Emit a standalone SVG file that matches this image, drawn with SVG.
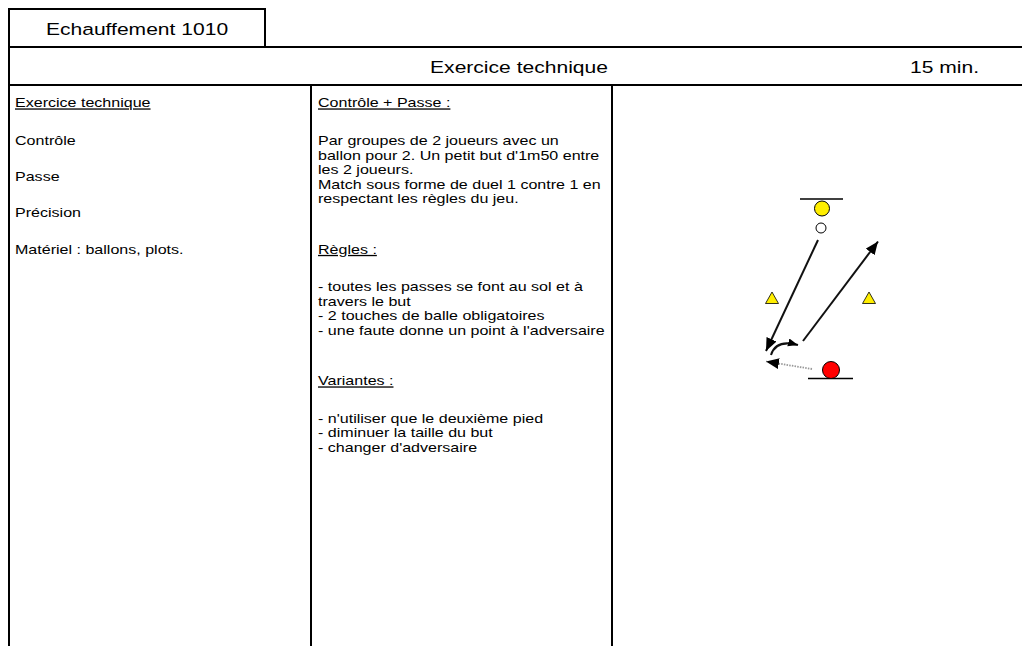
<svg xmlns="http://www.w3.org/2000/svg" width="1022" height="646" viewBox="0 0 1022 646">
<style>
  .frame { stroke: #000; stroke-width: 2; fill: none; }
  .t { font-family: "Liberation Sans", Arial, sans-serif; font-size: 13px; fill: #000; }
  .h { font-family: "Liberation Sans", Arial, sans-serif; font-size: 16.5px; fill: #000; }
  .u { text-decoration: underline; }
  .arrow { stroke: #111; stroke-width: 2; fill: none; }
  .dotted { stroke: #999; stroke-width: 1.8; fill: none; stroke-dasharray: 1.5 1.2; }
  .goal { stroke: #000; stroke-width: 1.5; }
  .cone { fill: #ffee00; stroke: #000; stroke-width: 0.8; }
</style>
<defs>
  <marker id="ah" markerUnits="userSpaceOnUse" markerWidth="15" markerHeight="13" refX="13" refY="5.5" orient="auto">
    <path d="M0,0 L13,5.5 L0,11 Z" fill="#000"/>
  </marker>
  <marker id="ahs" markerUnits="userSpaceOnUse" markerWidth="12" markerHeight="10" refX="10" refY="4" orient="auto">
    <path d="M0,0 L10,4 L0,8 Z" fill="#000"/>
  </marker>
</defs>
<rect width="1022" height="646" fill="#fff"/>

<g id="frame">
  <rect class="frame" x="9" y="9" width="256" height="38"/>
  <line class="frame" x1="9" y1="47" x2="1022" y2="47"/>
  <line class="frame" x1="9" y1="85" x2="1022" y2="85"/>
  <line class="frame" x1="9" y1="9" x2="9" y2="646"/>
  <line class="frame" x1="311" y1="85" x2="311" y2="646"/>
  <line class="frame" x1="612" y1="85" x2="612" y2="646"/>
</g>

<g id="title">
  <g transform="translate(137,35) scale(1.277,1)"><text class="h" x="0" y="0" text-anchor="middle">Echauffement 1010</text></g>
</g>

<g id="header-row">
  <g transform="translate(519,73) scale(1.277,1)"><text class="h" x="0" y="0" text-anchor="middle">Exercice technique</text></g>
  <g transform="translate(910,73) scale(1.277,1)"><text class="h" x="0" y="0">15 min.</text></g>
</g>

<g id="col-objectives" transform="translate(15,0) scale(1.235,1)">
  <text class="t u" x="0" y="107.5">Exercice technique</text>
  <text class="t" x="0" y="145.5">Contrôle</text>
  <text class="t" x="0" y="181.5">Passe</text>
  <text class="t" x="0" y="217.5">Précision</text>
  <text class="t" x="0" y="254">Matériel : ballons, plots.</text>
</g>

<g id="col-description" transform="translate(318,0) scale(1.235,1)">
  <text class="t u" x="0" y="107.5">Contrôle + Passe :</text>
  <text class="t" x="0" y="145.5">Par groupes de 2 joueurs avec un</text>
  <text class="t" x="0" y="160">ballon pour 2. Un petit but d'1m50 entre</text>
  <text class="t" x="0" y="174.5">les 2 joueurs.</text>
  <text class="t" x="0" y="189">Match sous forme de duel 1 contre 1 en</text>
  <text class="t" x="0" y="203.5">respectant les règles du jeu.</text>
  <text class="t u" x="0" y="254">Règles :</text>
  <text class="t" x="0" y="291.5">- toutes les passes se font au sol et à</text>
  <text class="t" x="0" y="306">travers le but</text>
  <text class="t" x="0" y="320.5">- 2 touches de balle obligatoires</text>
  <text class="t" x="0" y="335">- une faute donne un point à l'adversaire</text>
  <text class="t u" x="0" y="385.5">Variantes :</text>
  <text class="t" x="0" y="423">- n'utiliser que le deuxième pied</text>
  <text class="t" x="0" y="437.5">- diminuer la taille du but</text>
  <text class="t" x="0" y="452">- changer d'adversaire</text>
</g>

<g id="diagram">
  <g id="goal-top"><line class="goal" x1="800" y1="199" x2="843" y2="199"/></g>
  <g id="goal-bottom"><line class="goal" x1="808" y1="378.5" x2="853" y2="378.5"/></g>
  <g id="player-yellow"><circle cx="822" cy="208.5" r="7.5" fill="#ffee00" stroke="#000" stroke-width="1"/></g>
  <g id="ball"><circle cx="821" cy="228" r="5" fill="#fff" stroke="#000" stroke-width="1"/></g>
  <g id="player-red"><circle cx="831" cy="370" r="8.5" fill="#ff0000" stroke="#000" stroke-width="1"/></g>
  <g id="cone-left"><polygon class="cone" points="765.5,303.5 772,292 778.5,303.5"/></g>
  <g id="cone-right"><polygon class="cone" points="862.5,303.5 869,292 875.5,303.5"/></g>
</g>

<g id="connectors">
  <line class="arrow" x1="818" y1="240" x2="766" y2="351" marker-end="url(#ah)"/>
  <line class="arrow" x1="803" y1="341" x2="878" y2="241.5" marker-end="url(#ah)"/>
  <path class="arrow" d="M771,355 Q776,339 798,345" marker-end="url(#ahs)"/>
  <line class="dotted" x1="812" y1="369" x2="766" y2="361.5" marker-end="url(#ah)"/>
</g>
</svg>
